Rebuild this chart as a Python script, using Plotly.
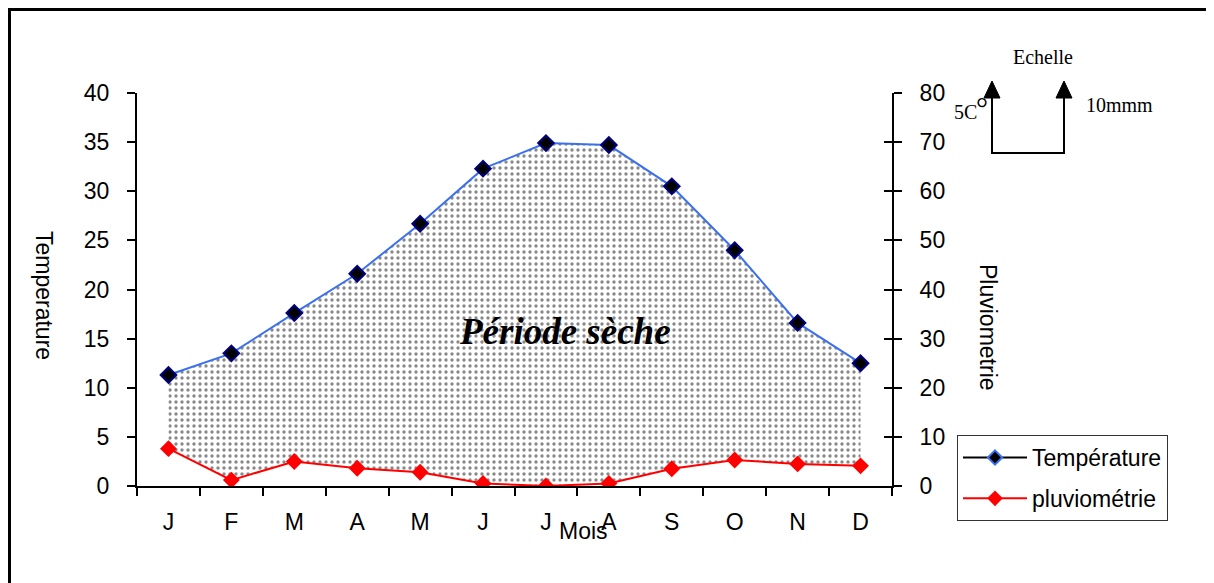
import plotly.graph_objects as go

# ---- data ----
months = ["J", "F", "M", "A", "M", "J", "J", "A", "S", "O", "N", "D"]
temperature = [11.3, 13.5, 17.6, 21.6, 26.7, 32.3, 34.9, 34.7, 30.5, 24.0, 16.6, 12.5]
pluviometrie = [7.6, 1.2, 5.0, 3.6, 2.8, 0.5, 0.0, 0.5, 3.5, 5.3, 4.5, 4.1]
temp_ticks = [0, 5, 10, 15, 20, 25, 30, 35, 40]
pluvio_ticks = [0, 10, 20, 30, 40, 50, 60, 70, 80]

xs = list(range(len(months)))
rain_in_temp = [p / 2 for p in pluviometrie]  # P = 2T scale

W_FIG, H_FIG = 1214, 583
OFF = 8  # page body margin of the html page
L, R, T, B = 137, 892, 93, 486  # target plot area in window pixels
PW, PH = R - L, B - T


def px(x):
    return (x - L) / PW


def py(y):
    return (B - y) / PH


SANS = "Liberation Sans, Arial, sans-serif"
SERIF = "Liberation Serif, Times New Roman, serif"
FS = 23

fig = go.Figure()

# dry period shading (between temperature and P/2)
fig.add_trace(go.Scatter(x=xs, y=rain_in_temp, mode="lines", line=dict(width=0),
                         showlegend=False, hoverinfo="skip"))
fig.add_trace(go.Scatter(x=xs, y=temperature, mode="lines", line=dict(width=0),
                         fill="tonexty", fillcolor="rgba(0,0,0,0)",
                         fillpattern=dict(shape=".", fgcolor="#111111", bgcolor="white",
                                          size=6, solidity=0.25),
                         showlegend=False, hoverinfo="skip"))

# visible lines
fig.add_trace(go.Scatter(x=xs, y=temperature, mode="lines+markers", name="Température",
                         line=dict(color="#3a6ff0", width=2),
                         marker=dict(symbol="diamond", size=12, color="black",
                                     line=dict(color="#000080", width=2)),
                         showlegend=False))
fig.add_trace(go.Scatter(x=xs, y=pluviometrie, mode="lines+markers", name="pluviométrie",
                         yaxis="y2", line=dict(color="#ff0000", width=2),
                         marker=dict(symbol="diamond", size=13, color="#ff0000"),
                         showlegend=False))

# legend entries
fig.add_trace(go.Scatter(x=[None], y=[None], mode="lines+markers", name="Température",
                         legendgroup="a",
                         line=dict(color="black", width=2),
                         marker=dict(symbol="diamond", size=11, color="black",
                                     line=dict(color="#3a6ff0", width=2))))
fig.add_trace(go.Scatter(x=[None], y=[None], mode="lines+markers", name="pluviométrie",
                         legendgroup="b",
                         line=dict(color="#ff0000", width=2),
                         marker=dict(symbol="diamond", size=12, color="#ff0000")))
# helper trace for the inside ticks on the right axis
fig.add_trace(go.Scatter(x=[None], y=[None], yaxis="y3", showlegend=False, hoverinfo="skip"))

fig.update_layout(
    width=W_FIG, height=H_FIG,
    margin=dict(l=L - OFF, r=W_FIG - R + OFF, t=T - OFF, b=H_FIG - B + OFF),
    paper_bgcolor="white", plot_bgcolor="white",
    font=dict(family=SANS, size=FS, color="black"),
    xaxis=dict(range=[-0.5, 11.5], tickvals=xs, ticktext=months, ticks="",
               showline=True, linecolor="black", linewidth=2, showgrid=False,
               zeroline=False, ticklabelstandoff=14,
               minor=dict(tickvals=[i - 0.5 for i in range(len(months) + 1)],
                          ticks="outside", ticklen=8, tickwidth=2, tickcolor="black",
                          showgrid=False)),
    yaxis=dict(range=[0, 40], tickvals=temp_ticks, ticks="outside", ticklen=8,
               tickwidth=2, tickcolor="black", showline=True, linecolor="black",
               linewidth=2, showgrid=False, zeroline=False, ticklabelstandoff=13),
    yaxis2=dict(range=[0, 80], tickvals=pluvio_ticks, overlaying="y", side="right",
                ticks="outside", ticklen=8, tickwidth=2, tickcolor="black",
                showline=True, linecolor="black", linewidth=2, showgrid=False,
                zeroline=False, ticklabelstandoff=13),
    yaxis3=dict(range=[0, 80], tickvals=pluvio_ticks, overlaying="y", side="right",
                ticks="inside", ticklen=8, tickwidth=2, tickcolor="black",
                showticklabels=False, showline=False, showgrid=False, zeroline=False),
    legend=dict(x=px(957), y=py(435), xanchor="left", yanchor="top",
                bgcolor="white", bordercolor="#333333", borderwidth=1,
                font=dict(family=SANS, size=FS), traceorder="grouped",
                tracegroupgap=8, itemwidth=64),
    showlegend=True,
)

# outer border
fig.add_shape(type="rect", xref="paper", yref="paper",
              x0=px(9), x1=px(1209), y0=py(9), y1=py(640),
              line=dict(color="black", width=4), layer="above")

# scale graphic
fig.add_shape(type="path", xref="paper", yref="paper",
              path=f"M {px(992)},{py(96)} L {px(992)},{py(153)} L {px(1064)},{py(153)} L {px(1064)},{py(96)}",
              line=dict(color="black", width=2))
for cx in (992, 1064):
    fig.add_shape(type="path", xref="paper", yref="paper",
                  path=f"M {px(cx - 8)},{py(98)} L {px(cx + 8)},{py(98)} L {px(cx)},{py(81)} Z",
                  fillcolor="black", line=dict(color="black", width=1))

ann = [
    dict(text="<b><i>Période sèche</i></b>", x=px(565), y=py(331),
         font=dict(family=SERIF, size=37)),
    dict(text="Echelle", x=px(1043), y=py(57), font=dict(family=SERIF, size=20)),
    dict(text="5C", x=px(965), y=py(112), font=dict(family=SERIF, size=20)),
    dict(text="°", x=px(982), y=py(108), font=dict(family=SERIF, size=30)),
    dict(text="10mmm", x=px(1119), y=py(105), font=dict(family=SERIF, size=20)),
    dict(text="Mois", x=px(583), y=py(531), font=dict(family=SANS, size=FS)),
    dict(text="Temperature", x=px(44), y=py(295), textangle=90,
         font=dict(family=SANS, size=FS)),
    dict(text="Pluviometrie", x=px(988), y=py(327), textangle=90,
         font=dict(family=SANS, size=FS)),
]
for a in ann:
    fig.add_annotation(xref="paper", yref="paper", showarrow=False,
                       xanchor="center", yanchor="middle", **a)

fig.write_html("out.html")
